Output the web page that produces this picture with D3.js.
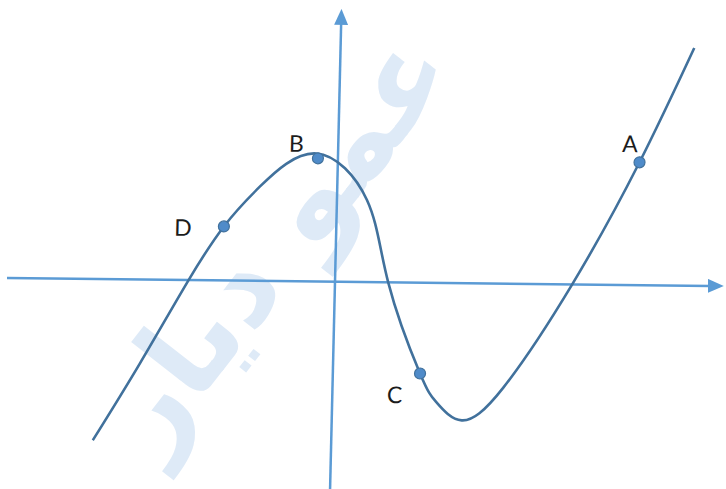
<!DOCTYPE html>
<html>
<head>
<meta charset="utf-8">
<script src="https://cdn.jsdelivr.net/npm/d3@7"></script>
<style>
  html, body { margin: 0; padding: 0; background: #fff; }
  svg { display: block; }
</style>
</head>
<body>
<div id="chart"></div>
<script>
// curve samples (1 unit ~ 40px)
const curveX = [-5.96, -4.83, -3.66, -2.81, -1.93, -0.55, 0.75, 1.33, 2.18, 2.61, 3.25, 4.27, 5.93, 7.54, 8.84];
const curveY = [-4.03, -2.10, 0, 1.35, 2.36, 3.2, 2.05, 0, -2.27, -2.99, -3.43, -2.6, 0, 3.07, 5.94];

// marked points
const pointNames = ["A", "B", "C", "D"];
const pointX = [7.54, -0.5, 2.18, -2.81];
const pointY = [3.07, 3.08, -2.27, 1.35];

// axis extents
const xAxisRange = [-8.2, 9.72];
const yAxisRange = [-5.3, 6.82];

const width = 726,
  height = 489;

const x = d3.scaleLinear().domain([0, 1]).range([0, 40]);
const y = d3.scaleLinear().domain([0, 1]).range([0, -40]);

const svg = d3
  .select("#chart")
  .append("svg")
  .attr("width", width)
  .attr("height", height);

// watermark
svg
  .append("text")
  .attr("transform", "translate(280,245) rotate(-52)")
  .attr("text-anchor", "middle")
  .attr("dominant-baseline", "middle")
  .attr("font-family", "DejaVu Sans")
  .attr("font-weight", "bold")
  .attr("font-size", 118)
  .attr("fill", "#deeaf7")
  .text("عمو دیار");

const defs = svg.append("defs");
defs
  .append("marker")
  .attr("id", "arrow")
  .attr("markerUnits", "userSpaceOnUse")
  .attr("viewBox", "0 0 16 14")
  .attr("refX", 2)
  .attr("refY", 7)
  .attr("markerWidth", 16)
  .attr("markerHeight", 14)
  .attr("orient", "auto")
  .append("path")
  .attr("d", "M0,0 L16,7 L0,14 Z")
  .attr("fill", "#5b9bd5");

// the scan is slightly skewed
const g = svg
  .append("g")
  .attr("transform", "matrix(1,0.0112,-0.0238,1,335,281.7)");

// axes
g.append("line")
  .attr("x1", x(xAxisRange[0]))
  .attr("y1", y(0))
  .attr("x2", x(xAxisRange[1]) - 14)
  .attr("y2", y(0))
  .attr("stroke", "#5b9bd5")
  .attr("stroke-width", 2.5)
  .attr("marker-end", "url(#arrow)");

g.append("line")
  .attr("x1", x(0))
  .attr("y1", y(yAxisRange[0]))
  .attr("x2", x(0))
  .attr("y2", y(yAxisRange[1]) + 14)
  .attr("stroke", "#5b9bd5")
  .attr("stroke-width", 2.5)
  .attr("marker-end", "url(#arrow)");

// curve
const line = d3
  .line()
  .x((d, i) => x(curveX[i]))
  .y((d, i) => y(curveY[i]))
  .curve(d3.curveNatural);

g.append("path")
  .attr("d", line(curveX))
  .attr("fill", "none")
  .attr("stroke", "#41719c")
  .attr("stroke-width", 2.6);

// points
g.selectAll("circle")
  .data(pointNames)
  .enter()
  .append("circle")
  .attr("cx", (d, i) => x(pointX[i]))
  .attr("cy", (d, i) => y(pointY[i]))
  .attr("r", 5.5)
  .attr("fill", "#4f8bc9")
  .attr("stroke", "#41719c")
  .attr("stroke-width", 1.2);

// labels, offset from each point
const labelDx = [-10, -22, -25, -41];
const labelDy = [-16, -12, 24, 4];

g.selectAll("text.lbl")
  .data(pointNames)
  .enter()
  .append("text")
  .attr("class", "lbl")
  .attr("x", (d, i) => x(pointX[i]) + labelDx[i])
  .attr("y", (d, i) => y(pointY[i]) + labelDy[i])
  .attr("text-anchor", "middle")
  .attr("dominant-baseline", "middle")
  .attr("font-family", "Lato, 'Open Sans', sans-serif")
  .attr("font-size", 23)
  .attr("fill", "#1c1c1c")
  .text((d) => d);
</script>
</body>
</html>
